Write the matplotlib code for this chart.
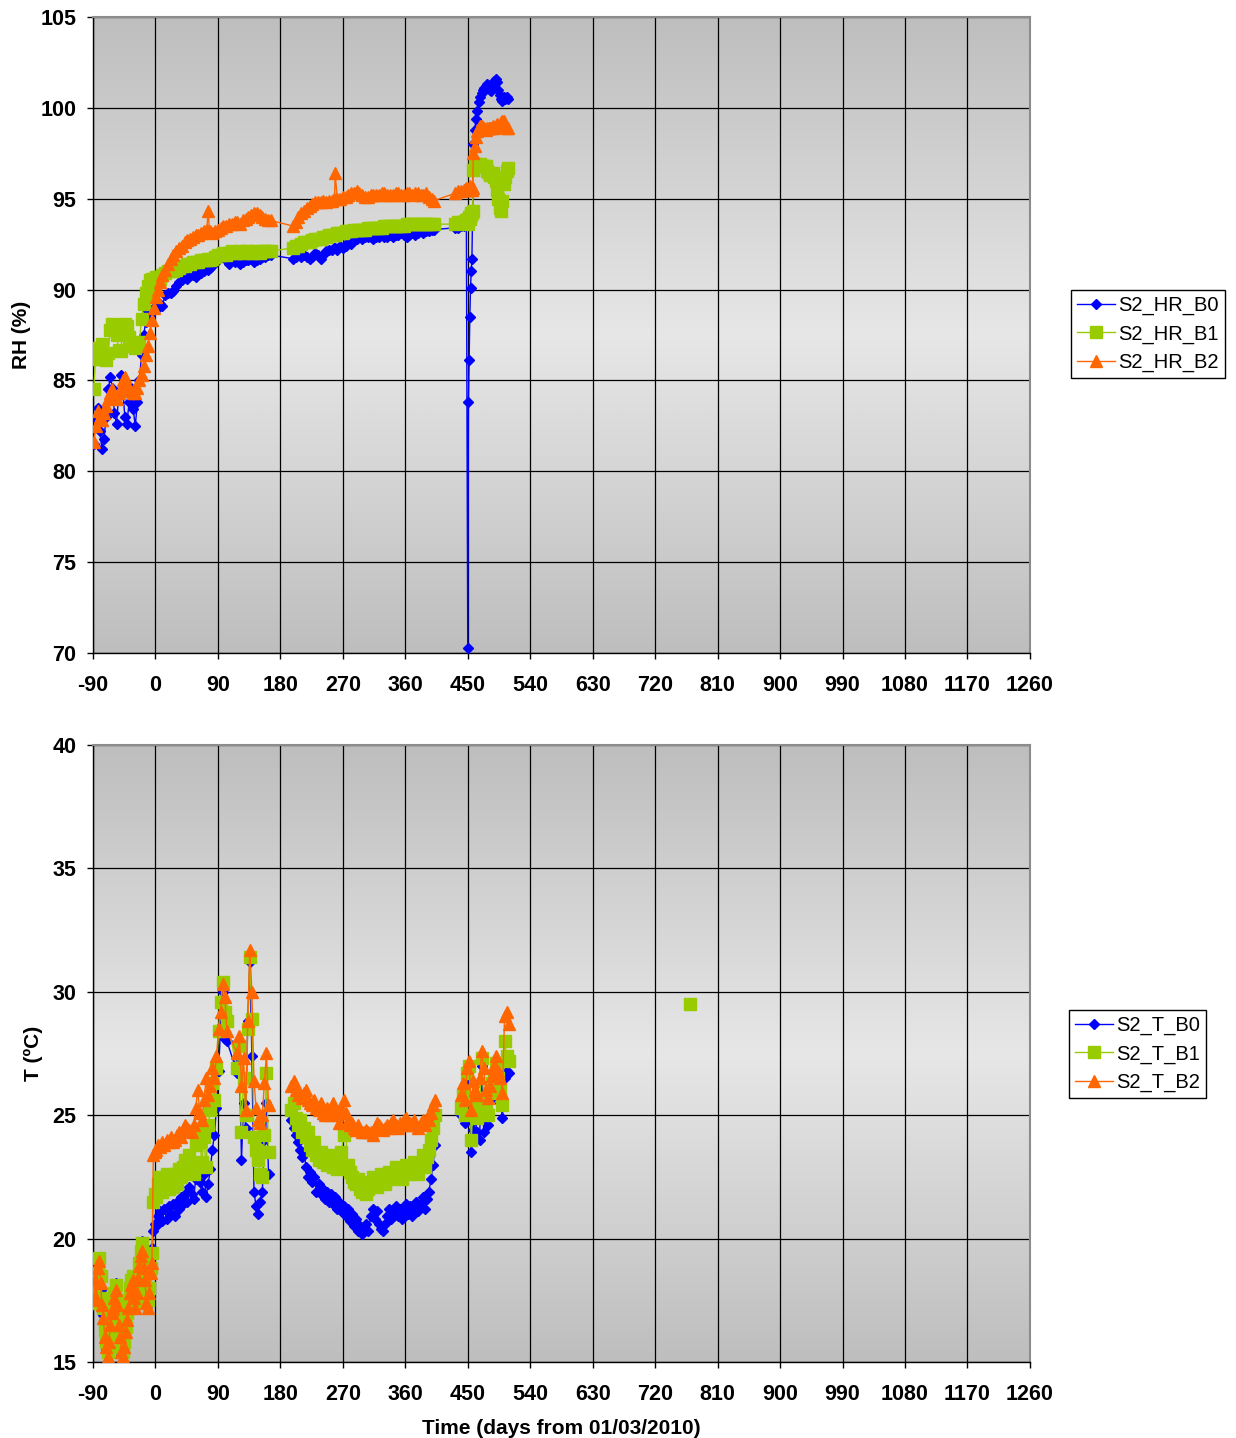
import numpy as np
import matplotlib
matplotlib.use("Agg")
from matplotlib import pyplot as plt

plt.rcParams['font.family'] = ['Liberation Sans', 'DejaVu Sans']
plt.rcParams['font.weight'] = 'bold'
plt.rcParams['axes.unicode_minus'] = False

nan = np.nan

#=========================================================================================
# RH data (days from 01/03/2010)

rh_days = [-89, -86, -83, -80, -77, -74, -71, -68, -65, -62, -59, -56, -53, -50, -47, -44, -41, -38, -35, -32,
           -29, -26, -23, -20, -17, -14, -11, -8, -5, -2,
           1, 4, 7, 10,
           14, 18, 22, 26, 30, 34, 38, 42, 46, 50, 54, 58, 62, 66, 70, 74,
           76, 78,
           82, 86, 90, 94, 98, 102, 106, 110, 114, 118, 122, 126, 130, 134, 138, 142, 146, 150, 154, 158, 162, 166,
           198, 202, 206, 210, 214, 218, 222, 226, 230, 234, 238, 242, 246, 250, 254, 258,
           259,
           262, 266, 270, 274, 278, 282, 286, 290, 294, 298, 302, 306, 310, 314, 318, 322, 326, 330, 334, 338,
           342, 346, 350, 354, 358, 362, 366, 370, 374, 378, 382, 386, 390, 394, 398, 402,
           432, 436, 440, 444, 448,
           450, 451, 452, 453, 454, 455, 456, 457, 458,
           460, 462, 464, 466, 468, 470, 472, 474, 476, 478, 480, 482, 484, 486, 488, 490, 492, 494, 496, 498,
           500, 502, 504, 506, 508]

rh_b0 = [81.5, 82.8, 83.5, 82.2, 81.2, 81.8, 83.0, 84.5, 85.2, 84.6, 83.2, 82.6, 84.2, 85.3, 84.4, 83.0, 82.6, 83.8, 84.6, 83.4,
         82.5, 83.8, 85.0, 86.4, 87.5, 88.2, 88.8, 88.6, 88.9, 89.0,
         89.1, 89.0, 89.2, 89.1,
         89.7, 89.8, 89.8, 89.9, 90.2, 90.4, 90.5, 90.7, 90.6, 90.8, 90.8, 90.7, 90.9, 90.9, 91.0, 91.2,
         91.1, 91.2,
         91.3, 91.5, 91.6, 91.8, 91.9, 91.6, 91.4, 91.6, 91.5, 91.6, 91.4, 91.5, 91.6, 91.6, 91.7, 91.5, 91.6, 91.7, 91.8, 91.8, 91.9, 91.9,
         91.7, 91.8, 91.9, 91.8, 91.9, 91.8, 91.7, 91.8, 92.0, 91.9, 91.7, 91.9, 92.1, 92.2, 92.2, 92.3,
         92.3,
         92.2, 92.4, 92.3, 92.4, 92.6, 92.5, 92.7, 92.8, 92.9, 92.8, 92.9, 92.9, 92.9, 92.8, 92.9, 92.9, 93.0, 92.9, 92.9, 93.0,
         92.9, 93.0, 93.0, 93.1, 93.0, 92.9, 93.0, 93.1, 93.0, 93.1, 93.2, 93.1, 93.2, 93.2, 93.3, 93.3,
         93.4, 93.4, 93.5, 93.5, 93.6,
         70.3, 83.8, 86.1, 88.5, 90.1, 91.0, 91.7, 94.3, 98.0,
         98.8, 99.4, 99.8, 100.3, 100.6, 100.8, 101.0, 101.1, 101.2, 101.3, 101.1, 101.0, 100.9, 101.2, 101.5, 101.6, 101.4, 101.0, 100.7, 100.5,
         100.4, 100.6, 100.5, 100.6, 100.5]

rh_b1 = [84.5, 86.2, 86.8, 86.2, 87.0, 86.3, 86.1, 86.5, 87.8, 88.1, 87.9, 87.5, 86.7, 86.6, 87.8, 88.1, 88.0, 87.4, 87.0, 86.9,
         86.8, 86.9, 87.1, 88.4, 89.2, 89.8, 90.2, 90.5, 90.6, 90.6,
         90.7, 90.7, 90.6, 90.8,
         90.9, 91.0, 91.0, 91.0, 91.1, 91.2, 91.3, 91.3, 91.4, 91.4, 91.5, 91.5, 91.5, 91.6, 91.6, 91.6,
         91.7, 91.6,
         91.7, 91.8, 91.9, 91.9, 92.0, 91.9, 92.0, 92.1, 92.0, 92.0, 92.1, 92.0, 92.1, 92.1, 92.0, 92.0, 92.1, 92.0, 92.1, 92.1, 92.1, 92.1,
         92.3, 92.4, 92.4, 92.5, 92.6, 92.6, 92.6, 92.7, 92.8, 92.8, 92.8, 92.9, 92.9, 93.0, 93.0, 93.0,
         93.0,
         93.1, 93.1, 93.1, 93.2, 93.2, 93.2, 93.3, 93.3, 93.3, 93.3, 93.3, 93.4, 93.4, 93.4, 93.4, 93.4, 93.4, 93.5, 93.5, 93.5,
         93.5, 93.5, 93.5, 93.5, 93.5, 93.6, 93.6, 93.6, 93.6, 93.6, 93.6, 93.6, 93.6, 93.6, 93.6, 93.6,
         93.6, 93.7, 93.7, 93.7, 93.8,
         93.6, 93.9, 94.0, 93.9, 94.1, 94.2, 94.2, 94.3, 96.6,
         96.8, 96.9, 96.8, 96.8, 96.9, 96.8, 96.8, 96.8, 96.8, 96.5, 96.4, 96.3, 96.3, 96.4, 96.2, 96.0, 95.5, 95.0, 94.5, 94.3,
         94.9, 95.8, 96.2, 96.5, 96.7]

rh_b2 = [81.6, 82.5, 83.3, 83.0, 82.8, 83.2, 83.6, 84.0, 84.3, 84.5, 84.1, 84.0, 84.3, 84.5, 85.0, 85.2, 84.8, 84.5, 84.4, 84.3,
         84.3, 84.6, 85.0, 85.3, 85.8, 86.4, 86.9, 87.6, 88.3, 89.0,
         89.6, 90.0, 90.4, 90.8,
         91.1, 91.4, 91.7, 91.9, 92.1, 92.3, 92.4, 92.6, 92.7, 92.8, 92.9, 93.0, 93.0, 93.1, 93.2, 93.3,
         94.3, 93.2,
         93.1, 93.2, 93.3, 93.4, 93.5, 93.5, 93.6, 93.6, 93.7, 93.7, 93.6, 93.8, 93.9, 94.0, 94.1, 94.2, 94.2, 94.1, 94.0, 93.9, 93.8, 93.8,
         93.5, 93.7, 94.0, 94.2, 94.3, 94.5, 94.6, 94.7, 94.8, 94.8, 94.8, 94.9, 94.8, 94.9, 94.9, 95.0,
         96.4,
         95.0, 95.0, 95.1, 95.1, 95.2, 95.3, 95.3, 95.4, 95.3, 95.2, 95.1, 95.1, 95.2, 95.2, 95.2, 95.2, 95.3, 95.3, 95.2, 95.2,
         95.2, 95.3, 95.3, 95.2, 95.2, 95.3, 95.3, 95.2, 95.3, 95.3, 95.2, 95.2, 95.3, 95.1, 95.0, 94.9,
         95.3, 95.4, 95.4, 95.5, 95.6,
         95.5, 95.5, 95.6, 95.7, 95.6, 95.5, 95.5, 95.6, 97.5,
         97.9, 98.4, 98.7, 98.9, 99.0, 99.0, 98.9, 98.9, 98.8, 98.9, 98.9, 98.9, 98.9, 99.0, 98.9, 99.0, 99.1, 99.0, 99.0, 99.2,
         99.3, 99.3, 99.0, 98.9, 98.9]

#=========================================================================================
# Temperature data (nan = no reading, breaks the line)

t_days = [-89, -87, -85, -83, -81, -79, -77, -75, -73, -71, -69, -67, -65, -63, -61, -59, -57, -55, -53, -51,
          -49, -47, -45, -43, -41, -39, -37, -35, -33, -31, -29, -27, -25, -23, -21, -19, -17, -15, -13, -11,
          -9, -7, -5, -3, -1,
          1, 4, 7, 10, 13, 16, 19, 22, 25, 28, 31, 34, 37, 40, 43, 46, 49, 52, 55, 58,
          61, 64, 67, 70, 73, 76, 79, 82, 85, 88, 91, 94, 97, 100, 103,
          118, 121, 124, 127, 130, 133, 136, 139, 142, 145, 148, 151, 154, 157, 160, 163,
          180,
          196, 199, 202, 205, 208, 211, 214, 217, 220, 223, 226, 229, 232, 235, 238, 241, 244, 247, 250, 253,
          256, 259, 262, 265, 268, 271, 274, 277, 280, 283, 286, 289, 292, 295, 298, 301, 304, 307, 310, 313,
          316, 319, 322, 325, 328, 331, 334, 337, 340, 343, 346, 349, 352, 355, 358, 361, 364, 367, 370, 373,
          376, 379, 382, 385, 388, 391, 394, 397, 400, 403,
          420,
          440, 443, 446, 449, 452, 455, 458, 461, 464, 467, 470, 473, 476, 479, 482, 485, 488, 491, 494, 497,
          500, 503, 506, 509,
          600,
          770]

t_b0 = [17.6, 18.2, 17.5, 18.4, 18.8, 17.9, 17.2, 16.9, 16.0, 15.5, 15.3, 15.9, 16.6, 17.1, 17.6, 18.0, 18.2, 17.6, 16.6, 15.8,
        15.3, 15.0, 15.5, 16.2, 16.8, 17.3, 17.9, 18.2, 18.4, 17.7, 17.3, 17.9, 18.6, 19.1, 19.6, 19.9, 19.1, 18.4, 17.6, 17.3,
        17.9, 18.8, 19.6, 20.3, 20.6,
        20.5, 20.9, 21.1, 20.7, 21.2, 20.8, 21.3, 21.0, 21.4, 20.9, 21.5, 21.2, 21.7, 21.4, 21.8, 21.5, 22.1, 21.8, 21.6, 22.4,
        23.0, 22.3, 21.9, 22.6, 21.7, 22.2, 22.8, 23.6, 24.2, 25.3, 26.8, 28.6, 30.0, 28.1, 28.0,
        26.7, 27.2, 23.2, 25.5, 24.5, 28.8, 31.2, 27.4, 21.9, 21.3, 21.0, 21.5, 21.9, 24.0, 25.5, 22.6,
        nan,
        24.8, 24.5, 24.2, 23.9, 23.6, 23.3, 23.5, 22.9, 22.5, 22.7, 22.3, 22.5, 21.9, 22.2, 21.8, 22.0, 21.6, 21.9, 21.5, 21.8,
        21.4, 21.7, 21.2, 21.5, 21.1, 21.3, 20.9, 21.2, 20.7, 21.0, 20.5, 20.8, 20.3, 20.5, 20.2, 20.4, 20.6, 20.3, 20.9, 21.2,
        20.8, 21.1, 20.6, 20.4, 20.3, 20.6, 20.9, 21.2, 20.8, 21.1, 21.3, 20.9, 21.2, 20.8, 21.1, 21.4, 21.0, 21.3, 20.9, 21.2,
        21.5, 21.1, 21.4, 21.7, 21.2, 21.6, 21.9, 22.4, 23.0, 23.8,
        nan,
        25.0, 25.4, 24.7, 26.5, 26.9, 23.5, 24.4, 24.8, 24.3, 24.0, 27.0, 24.3, 24.8, 24.6, 25.6, 26.0, 26.3, 26.6, 26.1, 25.5,
        24.9, 26.5, 26.8, 26.7,
        nan,
        nan]

t_b1 = [17.8, 18.5, 17.4, 18.6, 19.2, 18.5, 17.6, 17.2, 16.3, 15.8, 15.4, 16.0, 16.8, 17.3, 17.5, 17.8, 18.1, 17.5, 16.8, 16.2,
        15.6, 15.4, 15.8, 16.4, 17.0, 17.5, 18.0, 18.3, 18.5, 17.8, 17.4, 18.0, 18.5, 19.0, 19.5, 19.8, 19.2, 18.5, 17.8, 17.5,
        18.0, 18.8, 19.4, 21.5, 21.8,
        21.7, 22.2, 22.5, 21.9, 22.3, 22.6, 22.0, 22.4, 22.1, 22.6, 22.2, 22.8, 22.5, 22.9, 23.2, 22.7, 23.4, 23.0, 22.6, 23.8,
        24.4, 23.9, 23.1, 24.1, 22.9, 24.6, 25.2, 26.3, 25.6, 26.9, 28.4, 29.6, 30.4, 29.2, 28.8,
        26.9, 27.8, 24.3, 26.5, 25.0, 28.5, 31.4, 28.9, 24.1, 23.6, 23.2, 22.6, 22.5, 24.2, 26.7, 23.5,
        nan,
        25.2, 25.5, 24.9, 24.6, 24.8, 24.3, 24.5, 24.1, 24.3, 23.8, 23.6, 23.9, 23.4, 23.2, 23.5, 23.1, 23.3, 23.0, 23.4, 23.1,
        22.9, 23.3, 22.8, 22.9, 23.5, 24.2, 24.4, 23.0, 22.7, 22.5, 22.3, 22.2, 22.4, 22.0, 21.9, 22.1, 21.8, 22.0, 22.3, 22.5,
        22.4, 22.1, 22.3, 22.6, 22.4, 22.2, 22.5, 22.7, 22.4, 22.6, 22.9, 22.5, 22.7, 22.4, 22.8, 23.0, 22.6, 22.9, 22.7, 23.1,
        22.8, 22.6, 23.0, 23.4, 22.9, 23.3, 23.6, 24.0, 24.5, 25.0,
        nan,
        25.3, 25.8, 25.0, 26.7, 27.0, 24.0, 25.6, 25.1, 24.9, 25.2, 27.3, 25.7, 25.2, 25.0, 25.9, 26.3, 26.6, 27.1, 26.5, 26.0,
        25.4, 28.0, 27.4, 27.2,
        nan,
        29.5]

t_b2 = [17.5, 18.3, 17.6, 18.8, 19.1, 18.2, 17.3, 16.8, 16.0, 15.6, 15.2, 15.8, 16.5, 17.0, 17.2, 17.6, 17.9, 17.3, 16.5, 16.0,
        15.4, 15.2, 15.6, 16.2, 16.7, 17.2, 17.8, 18.1, 18.3, 17.6, 17.2, 17.8, 18.4, 18.9, 19.3, 19.5, 18.8, 18.3, 17.4, 17.2,
        17.8, 18.6, 19.0, 23.4, 23.5,
        23.6, 23.8, 23.7, 23.9, 23.8, 24.0, 23.9, 24.1, 23.9, 24.0, 24.2, 24.3, 24.1, 24.4, 24.6, 24.5, 24.4, 24.3, 24.6, 25.3,
        26.0, 25.1, 24.8, 25.6, 26.5, 25.8, 26.2, 26.9, 26.5, 27.4, 28.5, 29.2, 30.3, 29.8, 28.4,
        27.5, 28.2, 26.2, 27.3, 25.2, 28.8, 31.7, 30.0, 26.4, 25.3, 24.8, 24.7, 25.0, 26.3, 27.5, 25.4,
        nan,
        26.2, 26.4, 26.0, 25.8, 25.9, 25.7, 25.9, 26.0, 25.6, 25.5, 25.4, 25.6, 25.3, 25.2, 25.5, 25.1, 25.0, 25.3, 25.0, 25.2,
        25.5, 25.1, 25.0, 24.7, 25.2, 25.6, 25.1, 24.8, 24.6, 24.7, 24.5, 24.4, 24.6, 24.4, 24.3, 24.3, 24.4, 24.3, 24.3, 24.2,
        24.5, 24.7, 24.6, 24.5, 24.4, 24.5, 24.6, 24.5, 24.7, 24.8, 24.6, 24.5, 24.7, 24.6, 24.8, 24.9, 24.6, 24.7, 24.6, 24.8,
        24.6, 24.5, 24.7, 24.8, 24.6, 24.9, 24.8, 25.1, 25.4, 25.6,
        nan,
        25.8, 26.3, 25.6, 26.9, 27.2, 25.2, 26.4, 26.0, 25.8, 26.5, 27.6, 26.9, 26.0, 25.7, 26.2, 26.6, 27.0, 27.4, 26.8, 26.5,
        25.9, 29.0, 29.2, 28.7,
        nan,
        nan]

x_ticks = [-90, 0, 90, 180, 270, 360, 450, 540, 630, 720, 810, 900, 990, 1080, 1170, 1260]

#=========================================================================================

styles = [dict(color='#0000FF', marker='D', markersize=5.5),
          dict(color='#99CC00', marker='s', markersize=8),
          dict(color='#FF6600', marker='^', markersize=9)]


def gradient_bg(ax):
    # Excel-like plot area fill: darker at top/bottom, lighter in the middle
    t = np.linspace(0, 1, 256)
    v = 0.745 + (0.905 - 0.745) * (1 - np.abs(2 * t - 1))
    img = np.dstack([v, v, v]).reshape(256, 1, 3)
    ax.imshow(img, extent=[0, 1, 0, 1], transform=ax.transAxes, aspect='auto',
              interpolation='bilinear', zorder=0)


def style_axes(ax, ylim, yticks):
    gradient_bg(ax)
    ax.set_xlim(-90, 1260)
    ax.set_ylim(*ylim)
    ax.set_xticks(x_ticks)
    ax.set_yticks(yticks)
    ax.set_axisbelow(True)
    ax.grid(True, color='black', linewidth=0.9)
    ax.tick_params(axis='x', direction='out', length=4, width=1, pad=12, labelsize=15.5)
    ax.tick_params(axis='y', direction='out', length=4, width=1, pad=8, labelsize=15.5)
    for s in ['left', 'bottom']:
        ax.spines[s].set_color('black')
        ax.spines[s].set_linewidth(1)
    for s in ['top', 'right']:
        ax.spines[s].set_color('#8c8c8c')
        ax.spines[s].set_linewidth(1.5)


def draw(ax, x, series, labels):
    handles = []
    for y, st, lab in zip(series, styles, labels):
        h, = ax.plot(x, y, linewidth=1, markeredgecolor=st['color'], label=lab, zorder=3, **st)
        handles.append(h)
    return handles

#=========================================================================================

fig = plt.figure(figsize=(12.36, 14.38), dpi=100)
ax1 = fig.add_axes([0.0752, 0.5459, 0.7581, 0.4423])
ax2 = fig.add_axes([0.0752, 0.0529, 0.7581, 0.4290])

# RH plot
style_axes(ax1, (70, 105), [70, 75, 80, 85, 90, 95, 100, 105])
h1 = draw(ax1, rh_days, [rh_b0, rh_b1, rh_b2], ['S2_HR_B0', 'S2_HR_B1', 'S2_HR_B2'])
ax1.set_ylabel('RH (%)', fontsize=15, fontweight='bold', labelpad=7)

# Temperature plot
style_axes(ax2, (15, 40), [15, 20, 25, 30, 35, 40])
h2 = draw(ax2, t_days, [t_b0, t_b1, t_b2], ['S2_T_B0', 'S2_T_B1', 'S2_T_B2'])
ax2.set_ylabel('T (ºC)', fontsize=15, fontweight='bold', labelpad=7)
ax2.set_xlabel('Time (days from 01/03/2010)', fontsize=15, fontweight='bold', labelpad=10)

leg_kw = dict(loc='upper left', frameon=True, fancybox=False, edgecolor='black', framealpha=1,
              prop={'weight': 'normal', 'size': 14.5}, handlelength=1.9, handletextpad=0.15,
              borderpad=0.3, labelspacing=0.45, borderaxespad=0, numpoints=1)
lg1 = fig.legend(handles=h1, bbox_to_anchor=(0.8665, 0.7983), **leg_kw)
lg2 = fig.legend(handles=h2, bbox_to_anchor=(0.8649, 0.2976), **leg_kw)
for lg in (lg1, lg2):
    lg.get_frame().set_linewidth(1)

fig.savefig('out.png', dpi=100)
